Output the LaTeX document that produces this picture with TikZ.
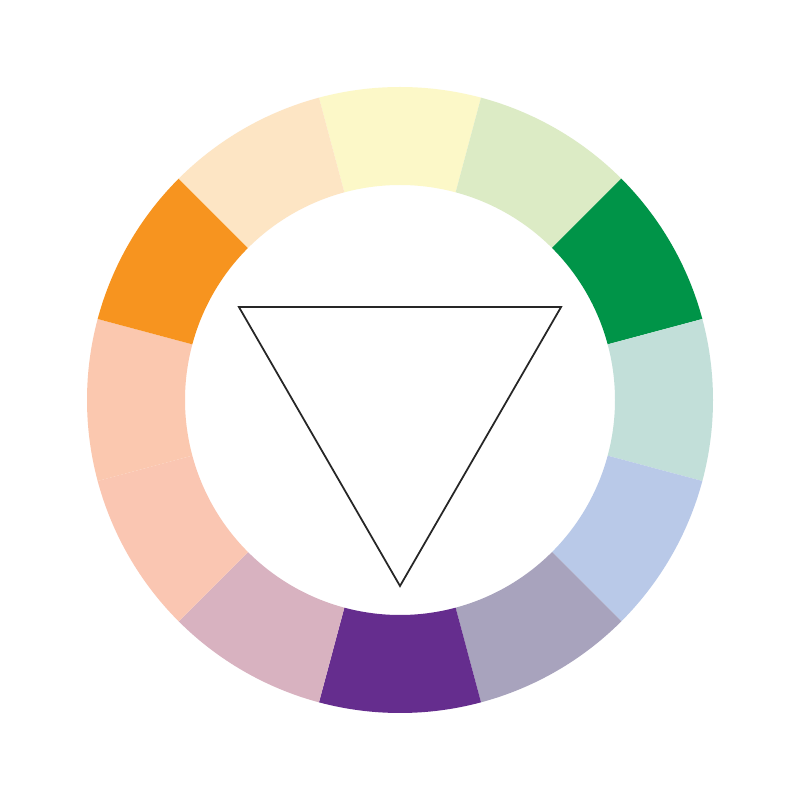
\documentclass[tikz,border=0pt]{standalone}
\usepackage{color}
\usepackage{tikz}

\definecolor{paleyellow}{HTML}{FCF8C8}
\definecolor{palegreen}{HTML}{DCEBC5}
\definecolor{wheelgreen}{HTML}{009448}
\definecolor{paleteal}{HTML}{C2DFD9}
\definecolor{paleblue}{HTML}{B9C9E8}
\definecolor{greypurple}{HTML}{A8A3BD}
\definecolor{wheelpurple}{HTML}{652D8E}
\definecolor{mauve}{HTML}{D8B2C0}
\definecolor{salmon}{HTML}{FAC6B2}
\definecolor{peach}{HTML}{FBC8AF}
\definecolor{wheelorange}{HTML}{F7941F}
\definecolor{paleorange}{HTML}{FDE5C4}

\tikzset{
    sector/.style={draw=none}
}

\begin{document}
\begin{tikzpicture}
                \useasboundingbox (-4,-4) rectangle (4,4);
                \fill[white] (-4,-4) rectangle (4,4);
                
                \fill[sector, fill=paleyellow] (75:3.13) arc[start angle=75, end angle=105, radius=3.13] -- (105:2.15) arc[start angle=105, end angle=75, radius=2.15] -- cycle;
                \fill[sector, fill=palegreen] (45:3.13) arc[start angle=45, end angle=75, radius=3.13] -- (75:2.15) arc[start angle=75, end angle=45, radius=2.15] -- cycle;
                \fill[sector, fill=wheelgreen] (15:3.13) arc[start angle=15, end angle=45, radius=3.13] -- (45:2.15) arc[start angle=45, end angle=15, radius=2.15] -- cycle;
                \fill[sector, fill=paleteal] (-15:3.13) arc[start angle=-15, end angle=15, radius=3.13] -- (15:2.15) arc[start angle=15, end angle=-15, radius=2.15] -- cycle;
                \fill[sector, fill=paleblue] (-45:3.13) arc[start angle=-45, end angle=-15, radius=3.13] -- (-15:2.15) arc[start angle=-15, end angle=-45, radius=2.15] -- cycle;
                \fill[sector, fill=greypurple] (-75:3.13) arc[start angle=-75, end angle=-45, radius=3.13] -- (-45:2.15) arc[start angle=-45, end angle=-75, radius=2.15] -- cycle;
                \fill[sector, fill=wheelpurple] (-105:3.13) arc[start angle=-105, end angle=-75, radius=3.13] -- (-75:2.15) arc[start angle=-75, end angle=-105, radius=2.15] -- cycle;
                \fill[sector, fill=mauve] (-135:3.13) arc[start angle=-135, end angle=-105, radius=3.13] -- (-105:2.15) arc[start angle=-105, end angle=-135, radius=2.15] -- cycle;
                \fill[sector, fill=salmon] (-165:3.13) arc[start angle=-165, end angle=-135, radius=3.13] -- (-135:2.15) arc[start angle=-135, end angle=-165, radius=2.15] -- cycle;
                \fill[sector, fill=peach] (165:3.13) arc[start angle=165, end angle=195, radius=3.13] -- (195:2.15) arc[start angle=195, end angle=165, radius=2.15] -- cycle;
                \fill[sector, fill=wheelorange] (135:3.13) arc[start angle=135, end angle=165, radius=3.13] -- (165:2.15) arc[start angle=165, end angle=135, radius=2.15] -- cycle;
                \fill[sector, fill=paleorange] (105:3.13) arc[start angle=105, end angle=135, radius=3.13] -- (135:2.15) arc[start angle=135, end angle=105, radius=2.15] -- cycle;
                
                \coordinate (left) at (150:1.86);
                \coordinate (right) at (30:1.86);
                \coordinate (bottom) at (-90:1.86);
                \draw[black!85, line width=0.5pt, line join=miter] (left) -- (right) -- (bottom) -- cycle;
            \end{tikzpicture}
\end{document}
